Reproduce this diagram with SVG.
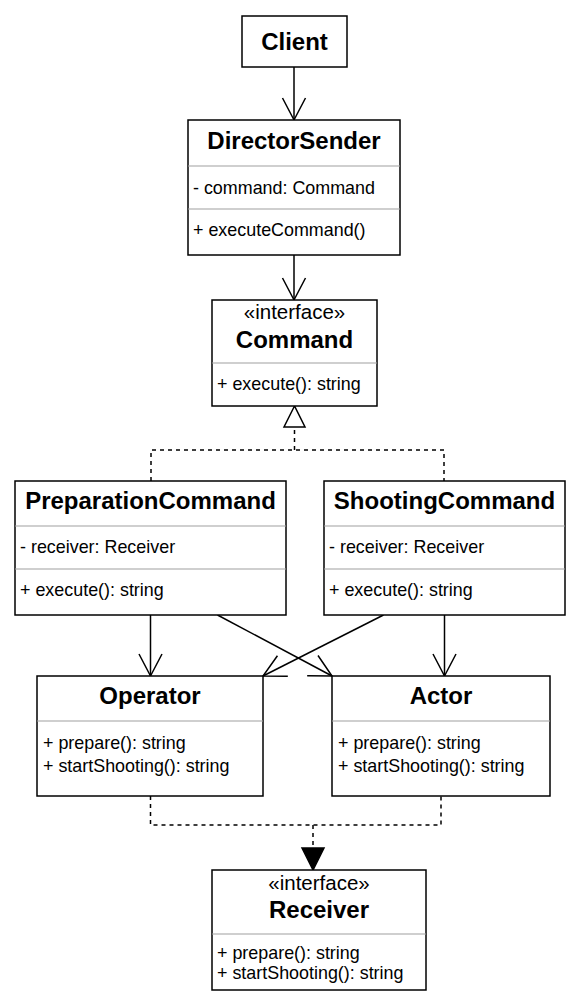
<svg xmlns="http://www.w3.org/2000/svg" width="582" height="1007" viewBox="0 0 582 1007">
<style>
.box{fill:#fff;stroke:#000;stroke-width:1.5}
.sep{stroke:#a0a0a0;stroke-width:1.2}
.t{font-family:"Liberation Sans",Arial,sans-serif;font-size:24px;font-weight:bold;text-anchor:middle;fill:#000}
.st{font-family:"Liberation Sans",Arial,sans-serif;font-size:20.5px;text-anchor:middle;fill:#000}
.m{font-family:"Liberation Sans",Arial,sans-serif;font-size:17.9px;fill:#000}
.ln{fill:none;stroke:#000;stroke-width:1.5}
.dash{fill:none;stroke:#000;stroke-width:1.5;stroke-dasharray:4 4}
</style>
<defs>
<marker id="open" markerUnits="userSpaceOnUse" markerWidth="30" markerHeight="30" refX="0" refY="0" orient="auto" overflow="visible">
<path d="M-22,-11.5 L0,0 L-22,11.5" fill="none" stroke="#000" stroke-width="1.5"/>
</marker>
</defs>
<g id="connectors">
<line class="ln" x1="294" y1="67" x2="294" y2="120" marker-end="url(#open)"/>
<line class="ln" x1="294" y1="255" x2="294" y2="300" marker-end="url(#open)"/>
<polyline class="dash" points="151,481 151,450 444,450 444,481"/>
<line class="dash" x1="294.5" y1="450" x2="294.5" y2="427"/>
<polygon points="294.5,406 284,427 305,427" fill="#fff" stroke="#000" stroke-width="1.5"/>
<line class="ln" x1="150.5" y1="615" x2="150.5" y2="676" marker-end="url(#open)"/>
<line class="ln" x1="444.5" y1="615" x2="444.5" y2="676" marker-end="url(#open)"/>
<line class="ln" x1="217.5" y1="615" x2="332" y2="676" marker-end="url(#open)"/>
<line class="ln" x1="383.5" y1="615" x2="263" y2="676" marker-end="url(#open)"/>
<polyline class="dash" points="150.5,796 150.5,825 441,825 441,796"/>
<line class="dash" x1="313" y1="825" x2="313" y2="848"/>
<polygon points="313,870 302,848 324,848" fill="#000" stroke="#000" stroke-width="1.5"/>
</g>
<g id="client">
<rect class="box" x="242" y="16" width="105" height="51"/>
<text class="t" x="294.5" y="50.3">Client</text>
</g>
<g id="directorsender">
<rect class="box" x="188" y="120" width="212" height="135"/>
<line class="sep" x1="188" y1="166" x2="400" y2="166"/>
<line class="sep" x1="188" y1="209" x2="400" y2="209"/>
<text class="t" x="294" y="148.5">DirectorSender</text>
<text class="m" x="193" y="194">- command: Command</text>
<text class="m" x="193" y="236">+ executeCommand()</text>
</g>
<g id="command">
<rect class="box" x="212" y="300" width="165" height="106"/>
<line class="sep" x1="212" y1="363" x2="377" y2="363"/>
<text class="st" x="294.5" y="319.3">«interface»</text>
<text class="t" x="294.5" y="347.5">Command</text>
<text class="m" x="217" y="390">+ execute(): string</text>
</g>
<g id="preparationcommand">
<rect class="box" x="15" y="481" width="271" height="134"/>
<line class="sep" x1="15" y1="526" x2="286" y2="526"/>
<line class="sep" x1="15" y1="569" x2="286" y2="569"/>
<text class="t" x="150.5" y="508.5">PreparationCommand</text>
<text class="m" x="20" y="553.3">- receiver: Receiver</text>
<text class="m" x="20" y="595.5">+ execute(): string</text>
</g>
<g id="shootingcommand">
<rect class="box" x="324" y="481" width="241" height="134"/>
<line class="sep" x1="324" y1="526" x2="565" y2="526"/>
<line class="sep" x1="324" y1="569" x2="565" y2="569"/>
<text class="t" x="444.5" y="508.5">ShootingCommand</text>
<text class="m" x="329" y="553.3">- receiver: Receiver</text>
<text class="m" x="329" y="595.5">+ execute(): string</text>
</g>
<g id="operator">
<rect class="box" x="37" y="676" width="226" height="120"/>
<line class="sep" x1="37" y1="721" x2="263" y2="721"/>
<text class="t" x="150" y="703.5">Operator</text>
<text class="m" x="43" y="748.7">+ prepare(): string</text>
<text class="m" x="43" y="771.5">+ startShooting(): string</text>
</g>
<g id="actor">
<rect class="box" x="332" y="676" width="218" height="120"/>
<line class="sep" x1="332" y1="721" x2="550" y2="721"/>
<text class="t" x="441" y="703.5">Actor</text>
<text class="m" x="338" y="748.7">+ prepare(): string</text>
<text class="m" x="338" y="771.5">+ startShooting(): string</text>
</g>
<g id="receiver">
<rect class="box" x="212" y="870" width="214" height="120"/>
<line class="sep" x1="212" y1="934" x2="426" y2="934"/>
<text class="st" x="319" y="890">«interface»</text>
<text class="t" x="319" y="918">Receiver</text>
<text class="m" x="217" y="959.3">+ prepare(): string</text>
<text class="m" x="217" y="979.3">+ startShooting(): string</text>
</g>
</svg>
